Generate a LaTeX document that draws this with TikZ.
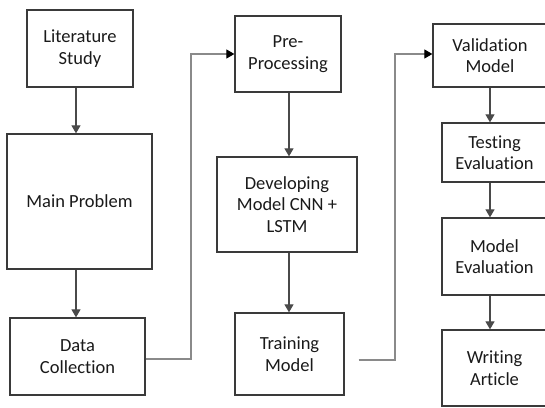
\documentclass[tikz,border=0pt]{standalone}
\usepackage{fontspec}
\setmainfont{Carlito}[Ligatures=NoCommon]
\usetikzlibrary{arrows.meta}
\definecolor{boxline}{HTML}{3A3A3A}
\definecolor{arrline}{HTML}{4A4A4A}
\definecolor{elbline}{HTML}{8A8A8A}
\definecolor{txt}{HTML}{1A1A1A}
\begin{document}
\begin{tikzpicture}[x=1pt,y=-1pt,
  stepbox/.style={draw=boxline,line width=1.3pt,fill=white,inner sep=0pt,align=center,
    text=txt,font=\fontsize{18.5}{21.5}\selectfont},
  flow/.style={draw=arrline,line width=1.2pt,-{Triangle[length=8pt,width=9pt]}},
  elbow/.style={draw=elbline,line width=1.2pt,arrows={-{Triangle[length=8pt,width=9pt,color=black]}}}
]
\clip (0,0) rectangle (545,407);
\fill[white] (0,0) rectangle (545,407);
% column 1
\node[stepbox,minimum width=106pt,minimum height=77pt] (lit) at (80,48.5) {Literature\\Study};
\node[stepbox,minimum width=145pt,minimum height=135pt] (main) at (79.5,201.5) {Main Problem};
\node[stepbox,minimum width=135pt,minimum height=77pt] (data) at (77.5,356.5) {Data\\Collection};
% column 2
\node[stepbox,minimum width=106pt,minimum height=76pt] (pre) at (288,54) {Pre-\\Processing};
\node[stepbox,minimum width=140pt,minimum height=95pt] (dev) at (287,204.5) {Developing\\Model CNN +\\LSTM};
\node[stepbox,minimum width=109pt,minimum height=82pt] (train) at (289.5,354) {Training\\Model};
% column 3
\node[stepbox,minimum width=114pt,minimum height=63pt] (val) at (490,55.5) {Validation\\Model};
\node[stepbox,minimum width=105pt,minimum height=59pt] (test) at (494.5,152.5) {Testing\\Evaluation};
\node[stepbox,minimum width=105pt,minimum height=77pt] (meval) at (494.5,256.5) {Model\\Evaluation};
\node[stepbox,minimum width=105pt,minimum height=76pt] (write) at (494.5,368) {Writing\\Article};
% vertical arrows
\draw[flow] ([xshift=-4pt]lit.south) -- ([xshift=-4pt]lit.south |- main.north);
\draw[flow] ([xshift=-3.5pt]main.south) -- ([xshift=-3.5pt]main.south |- data.north);
\draw[flow] ([xshift=1pt]pre.south) -- ([xshift=1pt]pre.south |- dev.north);
\draw[flow] ([xshift=2pt]dev.south) -- ([xshift=2pt]dev.south |- train.north);
\draw[flow] (val.south) -- (val.south |- test.north);
\draw[flow] (val.south |- test.south) -- (val.south |- meval.north);
\draw[flow] (val.south |- meval.south) -- (val.south |- write.north);
% elbow connectors
\coordinate (c1) at (191,359);
\coordinate (c2) at (395,360);
\draw[elbow] (data.east |- c1) -- (c1) |- (pre.west);
\draw[elbow,shorten <=14pt] (train.east |- c2) -- (c2) |- ([yshift=1.5pt]val.west);
\end{tikzpicture}
\end{document}
